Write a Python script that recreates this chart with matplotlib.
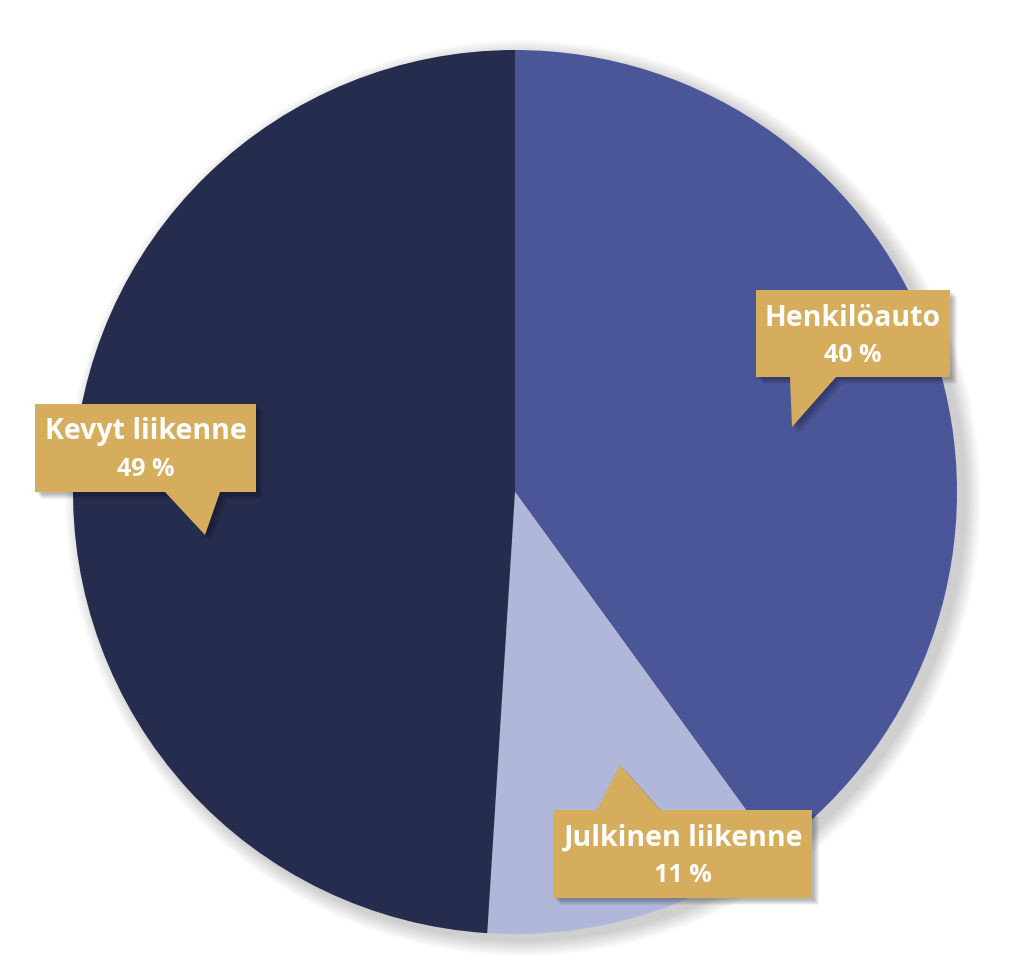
import numpy as np
import matplotlib
matplotlib.use("Agg")
import matplotlib.pyplot as plt
from matplotlib.patches import Polygon, Circle

# kulkutapaosuudet
labels = ["Henkilöauto", "Julkinen liikenne", "Kevyt liikenne"]
shares = [40, 11, 49]
colors = ["#4B5698", "#B0B7D9", "#262C4E"]
box_color = "#D5AD5C"

W, H = 1024, 973
fig = plt.figure(figsize=(W / 100, H / 100), dpi=100)
ax = fig.add_axes([0, 0, 1, 1])

def fy(y):
    # kuvan pikselirivi -> datakoordinaatti
    return H - y

cx, cy, r = 515, fy(492), 442

# pehmeä varjo kiekon ympärille
for k in range(16):
    ax.add_patch(Circle((cx + 8, cy - 6), r + 16 - k, color="black", alpha=0.011, lw=0, zorder=0))

ax.pie(shares, colors=colors, startangle=90, counterclock=False,
       center=(cx, cy), radius=r, wedgeprops=dict(linewidth=0))

# puhekuplat: laatikko (x0, y0, x1, y1) ja kärki (kanta1, kanta2, kärki)
callouts = [
    ((756, 290, 950, 377), ((790, 377), (836, 377), (792, 427))),
    ((553, 810, 812, 898), ((660, 810), (597, 810), (620, 765))),
    ((35, 404, 256, 492), ((165, 492), (220, 492), (205, 535))),
]

for (lab, val), (box, tail) in zip(zip(labels, shares), callouts):
    x0, y0, x1, y1 = box
    (ax_, ay_), (bx_, by_), (tx, ty) = tail
    if ty > y1:
        pts = [(x0, y0), (x1, y0), (x1, y1), (bx_, by_), (tx, ty), (ax_, ay_), (x0, y1)]
    else:
        pts = [(x0, y0), (bx_, by_), (tx, ty), (ax_, ay_), (x1, y0), (x1, y1), (x0, y1)]
    pts = [(px, fy(py)) for px, py in pts]
    # varjo
    for k in range(6):
        off = 2 + k
        ax.add_patch(Polygon([(px + off, py - off) for px, py in pts], closed=True,
                             color="black", alpha=0.05, lw=0, zorder=3))
    ax.add_patch(Polygon(pts, closed=True, color=box_color, lw=0, zorder=4))
    mx = (x0 + x1) / 2
    ax.text(mx, fy(y0 + 28), lab, ha="center", va="center", color="white",
            fontsize=20.5, fontweight="bold", family="Open Sans", zorder=5)
    ax.text(mx, fy(y0 + 66), f"{val} %", ha="center", va="center", color="white",
            fontsize=18, fontweight="bold", family="Open Sans", zorder=5)

ax.set_xlim(0, W)
ax.set_ylim(0, H)
ax.set_aspect("auto")
ax.axis("off")

fig.savefig("out.png", dpi=100, facecolor="white")
